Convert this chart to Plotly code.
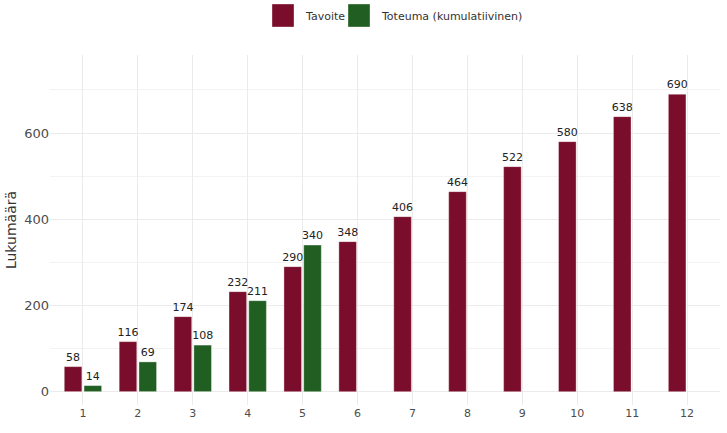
import plotly.graph_objects as go

kuukaudet = list(range(1, 13))
tavoite = [58, 116, 174, 232, 290, 348, 406, 464, 522, 580, 638, 690]
toteuma = [14, 69, 108, 211, 340, None, None, None, None, None, None, None]
y_ticks = [0, 200, 400, 600]
sarjat = ["Tavoite", "Toteuma (kumulatiivinen)"]

MAROON = "#7a0d2b"
GREEN = "#215e21"

W, H = 727, 433
ML, MR, MT, MB = 50, 7, 55, 28
PW, PH = W - ML - MR, H - MT - MB

def px_x(p):
    return (p - ML) / PW

def px_y(p):
    return (H - MB - p) / PH

fig = go.Figure()
for nm, vals, col in [(sarjat[0], tavoite, MAROON), (sarjat[1], toteuma, GREEN)]:
    fig.add_trace(go.Bar(
        x=kuukaudet, y=vals, name=nm,
        marker=dict(color=col, line=dict(color="rgba(255,255,255,0.6)", width=0.6)),
        text=[("" if v is None else str(v)) for v in vals], textposition="outside",
        cliponaxis=False, constraintext="none",
        textfont=dict(size=11, color="#222222", family="DejaVu Sans"),
        showlegend=False,
    ))

# legend drawn as large square keys with text
shapes = []
annotations = []
keys = [(272, 303, MAROON, sarjat[0]), (348, 379, GREEN, sarjat[1])]
for kx, tx, col, label in keys:
    shapes.append(dict(type="rect", xref="paper", yref="paper",
                       x0=px_x(kx), x1=px_x(kx + 22), y0=px_y(27), y1=px_y(4),
                       fillcolor=col, line=dict(width=0.6, color="rgba(255,255,255,0.6)")))
    annotations.append(dict(xref="paper", yref="paper", x=px_x(tx), y=px_y(16),
                            xanchor="left", yanchor="middle", showarrow=False,
                            text=label, font=dict(size=11, color="#333333", family="DejaVu Sans")))

fig.update_layout(
    width=W, height=H,
    margin=dict(l=ML, r=MR, t=MT, b=MB, autoexpand=False),
    plot_bgcolor="white", paper_bgcolor="white",
    barmode="group", bargap=0.28, bargroupgap=0.11,
    font=dict(family="DejaVu Sans", color="#333333"),
    showlegend=False,
    shapes=shapes, annotations=annotations,
    xaxis=dict(range=[0.4, 12.6], tickvals=kuukaudet, ticktext=[str(k) for k in kuukaudet],
               showgrid=True, gridcolor="#ebebeb", gridwidth=1, zeroline=False,
               tickfont=dict(size=11, color="#4d4d4d"), ticks="", showline=False,
               automargin=False),
    yaxis=dict(range=[-31, 781], tickvals=y_ticks, showgrid=True, gridcolor="#ebebeb",
               gridwidth=1, zeroline=False, automargin=False,
               minor=dict(dtick=100, showgrid=True, gridcolor="#f3f3f3", gridwidth=1),
               tickfont=dict(size=13, color="#4d4d4d"), ticks="", showline=False,
               title=dict(text="Lukumäärä", font=dict(size=14, color="#333333"), standoff=4)),
)

fig.write_html("out.html", config={"displayModeBar": False},
               post_script="document.body.style.margin='0';")
